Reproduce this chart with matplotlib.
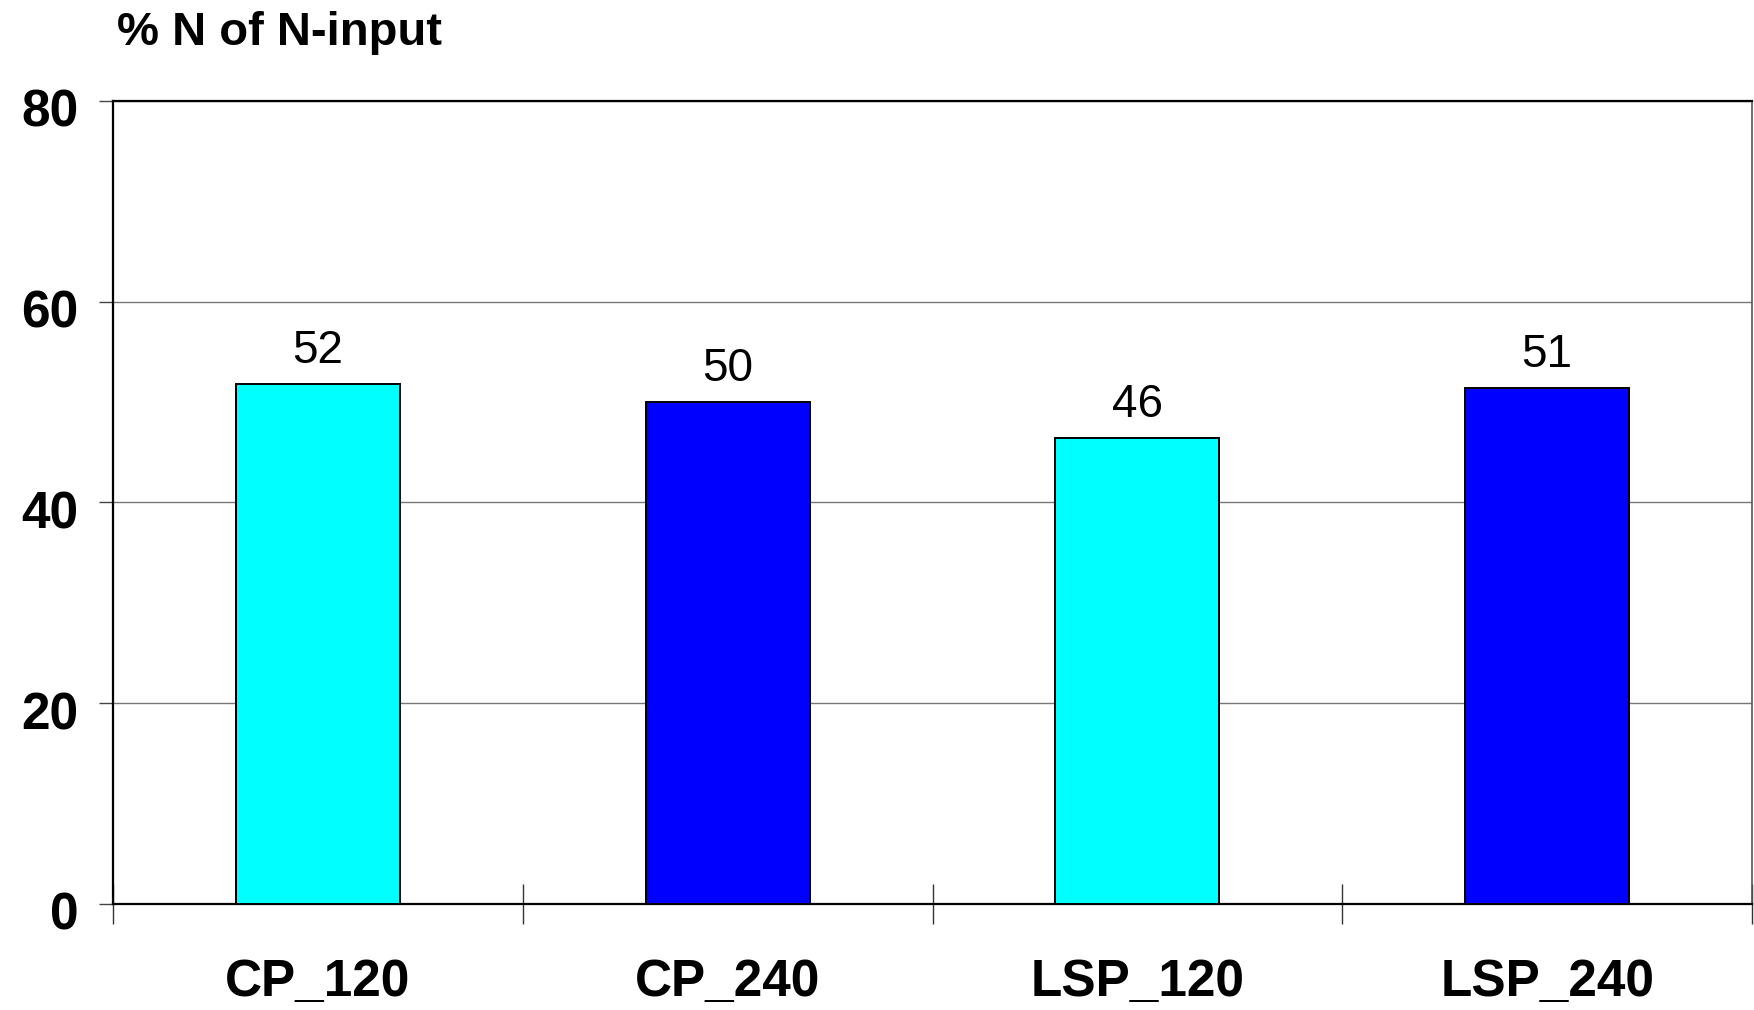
import matplotlib
matplotlib.use("Agg")
import matplotlib.pyplot as plt
import matplotlib.transforms as mtransforms
import numpy as np

categories = ["CP_120", "CP_240", "LSP_120", "LSP_240"]
values = [51.8, 50.0, 46.4, 51.4]
bar_colors = ["#00FFFF", "#0000FF", "#00FFFF", "#0000FF"]
y_ticks = [0, 20, 40, 60, 80]
y_label = "% N of N-input"

plt.rcParams["font.family"] = ["Liberation Sans", "DejaVu Sans"]

fig = plt.figure(figsize=(17.54, 10.10), dpi=100)
ax = fig.add_axes([113 / 1754, 1 - 904 / 1010, (1752 - 113) / 1754, (904 - 101) / 1010])

x = np.arange(len(categories))
bars = ax.bar(x, values, width=0.4, color=bar_colors, edgecolor="black",
              linewidth=1.4, zorder=3)

for xi, v in zip(x, values):
    ax.annotate(f"{v:.0f}", (xi, v), xytext=(0, 8), textcoords="offset points",
                ha="center", va="bottom", fontsize=33, zorder=4)

ax.set_xlim(-0.5, len(categories) - 0.5)
ax.set_ylim(0, 80)
ax.set_yticks(y_ticks)
ax.set_yticklabels([str(t) for t in y_ticks], fontsize=37, fontweight="bold")
ax.set_xticks(x)
ax.set_xticklabels(categories, fontsize=37, fontweight="bold")
ax.set_xticks(np.arange(-0.5, len(categories)), minor=True)

ax.tick_params(axis="x", which="major", length=0, pad=39)
ax.tick_params(axis="x", which="minor", direction="inout", length=29,
               width=1.0, color="#333333")
ax.tick_params(axis="y", direction="out", length=10, width=1.0,
               color="#444444", pad=15)

# nudge the y tick labels slightly below their ticks
shift = mtransforms.ScaledTranslation(0, -5 / 72, fig.dpi_scale_trans)
for lbl in ax.get_yticklabels():
    lbl.set_transform(lbl.get_transform() + shift)

ax.yaxis.grid(True, color="#777777", linewidth=1.0, zorder=0)
ax.set_axisbelow(True)

for side in ("left", "bottom", "top"):
    ax.spines[side].set_color("black")
    ax.spines[side].set_linewidth(1.6)
ax.spines["right"].set_color("#555555")
ax.spines["right"].set_linewidth(1.2)

fig.text(117 / 1754, 1 - 45 / 1010, y_label, fontsize=34, fontweight="bold",
         ha="left", va="baseline")

fig.savefig("out.png", dpi=100, facecolor="white")
